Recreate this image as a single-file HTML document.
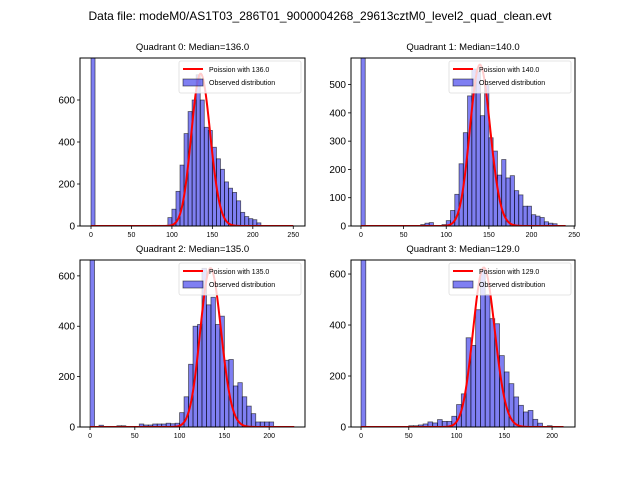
<!DOCTYPE html>
<html><head><meta charset="utf-8"><style>
html,body{margin:0;padding:0;background:#fff;}
svg{display:block;font-family:"Liberation Sans","DejaVu Sans",sans-serif;}
</style></head><body>
<svg id="fig" width="640" height="480" viewBox="0 0 640 480">
<rect width="640" height="480" fill="#fff"/>
<text x="320" y="20" font-size="12" text-anchor="middle">Data file: modeM0/AS1T03_286T01_9000004268_29613cztM0_level2_quad_clean.evt</text>
</svg>
<script>
// Bin starts (width 5) and counts per quadrant
const q0Bins = [75,80,85,90,95,100,105,110,115,120,125,130,135,140,145,150,155,160,165,170,175,180,185,190,195,200,205];
const q0Counts = [3,3,3,3,40,80,165,290,440,545,600,720,600,470,455,375,320,270,210,180,160,120,65,45,35,30,15];
const q1Bins = [70,75,80,95,100,105,110,115,120,125,130,135,140,145,150,155,160,165,170,175,180,185,190,195,200,205,210,215,220,225];
const q1Counts = [5,10,12,5,19,55,112,220,330,460,555,545,390,500,312,265,180,235,170,178,125,110,70,70,40,35,30,15,10,8];
const q2Bins = [10,30,35,55,60,65,70,75,80,85,90,95,100,105,110,115,120,125,130,135,140,145,150,155,160,165,170,175,180,185,190,195,200];
const q2Counts = [7,5,5,12,8,8,12,12,12,15,13,15,57,120,249,400,407,630,485,515,407,440,265,268,163,176,120,83,53,20,20,20,20];
const q3Bins = [50,55,60,65,70,75,80,85,90,95,100,105,110,115,120,125,130,135,140,145,150,155,160,165,170,175,180,185,195];
const q3Counts = [5,5,8,12,20,16,29,22,22,42,88,130,350,320,460,620,520,425,405,280,216,170,118,85,59,65,30,15,5];
const zeroBinCounts = [5000,5000,5000,5000];
const medians = [136,140,135,129];
const curvePeaks = [725,570,630,625];
const curveMax = [250,240,228,212];
const xTicks = [[0,50,100,150,200,250],[0,50,100,150,200,250],[0,50,100,150,200],[0,50,100,150,200]];
const yTicks = [[0,200,400,600],[0,100,200,300,400,500],[0,200,400,600],[0,200,400,600]];

const panels = [
 {x0:80,x1:305,y0:58,y1:226,xmin:-13.6,xmax:264.5,ymax:800,bins:q0Bins,counts:q0Counts},
 {x0:351,x1:575,y0:58,y1:226,xmin:-11.7,xmax:251,ymax:594,bins:q1Bins,counts:q1Counts},
 {x0:80,x1:305,y0:260,y1:427,xmin:-11.2,xmax:240,ymax:663,bins:q2Bins,counts:q2Counts},
 {x0:351,x1:575,y0:260,y1:427,xmin:-10.5,xmax:224,ymax:655,bins:q3Bins,counts:q3Counts}
];
const NS="http://www.w3.org/2000/svg";
const svg=document.getElementById('fig');
function mk(tag,attrs,parent){const e=document.createElementNS(NS,tag);for(const k in attrs)e.setAttribute(k,attrs[k]);(parent||svg).appendChild(e);return e;}
function logPois(k,m){let s=0;for(let i=2;i<=k;i++)s+=Math.log(i);return k*Math.log(m)-m-s;}

panels.forEach((p,i)=>{
 const g=mk('g',{});
 
 
 const sx=v=>p.x0+(v-p.xmin)/(p.xmax-p.xmin)*(p.x1-p.x0);
 const sy=v=>p.y1-v/p.ymax*(p.y1-p.y0);
 const cid='clip'+i;
 const cp=mk('clipPath',{id:cid},g);mk('rect',{x:p.x0,y:p.y0,width:p.x1-p.x0,height:p.y1-p.y0},cp);
 const plot=mk('g',{'clip-path':'url(#'+cid+')'},g);
 const drawBar=(b,c,name)=>{const r=mk('rect',{x:sx(b),y:sy(c),width:sx(b+5)-sx(b),height:sy(0)-sy(c),fill:'rgba(0,0,230,0.5)',stroke:'rgba(0,0,0,0.6)','stroke-width':0.8},plot);
  
  };
 drawBar(0,zeroBinCounts[i],'bar-zero');
 p.bins.forEach((b,j)=>drawBar(b,p.counts[j],'bar-'+b));
 // poisson curve
 const m=medians[i];const peak=Math.exp(logPois(Math.floor(m),m));
 let d='';for(let k=0;k<=curveMax[i];k++){d+=(k?'L':'M')+sx(k).toFixed(2)+','+sy(curvePeaks[i]*Math.exp(logPois(k,m))/peak).toFixed(2);}
 const pl=mk('path',{d:d,fill:'none',stroke:'#ff0000','stroke-width':2},plot);
 
 
 mk('rect',{x:p.x0,y:p.y0,width:p.x1-p.x0,height:p.y1-p.y0,fill:'none',stroke:'#000','stroke-width':1},g);
 xTicks[i].forEach(t=>{const x=sx(t);mk('line',{x1:x,x2:x,y1:p.y1,y2:p.y1+3,stroke:'#000','stroke-width':0.8},g);
  const tx=mk('text',{x:x,y:p.y1+11,'font-size':7,'text-anchor':'middle'},g);tx.textContent=t;
  
  });
 yTicks[i].forEach(t=>{const y=sy(t);mk('line',{x1:p.x0-3,x2:p.x0,y1:y,y2:y,stroke:'#000','stroke-width':0.8},g);
  const tx=mk('text',{x:p.x0-5,y:y+3.5,'font-size':10,'text-anchor':'end'},g);tx.textContent=t;
  
  });
 const ti=mk('text',{x:(p.x0+p.x1)/2,y:p.y0-8,'font-size':9.5,'text-anchor':'middle'},g);
 ti.textContent='Quadrant '+i+': Median='+medians[i].toFixed(1);
 
 
 // legend
 const lg=mk('g',{},g);
 
 
 const lx=p.x1-126,ly=p.y0+3;
 mk('rect',{x:lx,y:ly,width:122,height:32,rx:2,fill:'rgba(255,255,255,0.8)',stroke:'#ddd','stroke-width':0.8},lg);
 mk('line',{x1:lx+4,x2:lx+24,y1:ly+8,y2:ly+8,stroke:'#f00','stroke-width':2},lg);
 mk('rect',{x:lx+4,y:ly+18,width:20,height:7,fill:'rgba(0,0,230,0.5)',stroke:'rgba(0,0,0,0.6)','stroke-width':0.8},lg);
 const t1=mk('text',{x:lx+30,y:ly+11,'font-size':7},lg);t1.textContent='Poission with '+medians[i].toFixed(1);
 
 
 const t2=mk('text',{x:lx+30,y:ly+24,'font-size':7},lg);t2.textContent='Observed distribution';
 
 
});
</script>
</body></html>
